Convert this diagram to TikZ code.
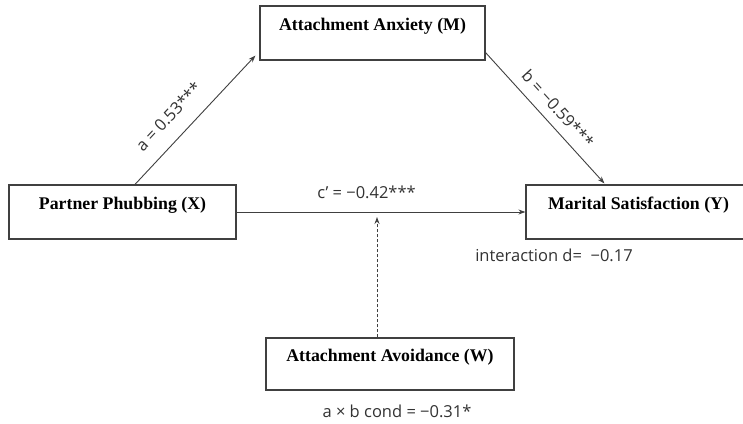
\documentclass[tikz,border=0pt]{standalone}
\usepackage{fontspec}
\setmainfont{Liberation Serif}
\newfontfamily\coeffont{Open Sans}
\usetikzlibrary{arrows.meta, positioning}
\definecolor{linegray}{RGB}{64,64,64}
\definecolor{textgray}{RGB}{51,51,51}
\tikzset{
  varbox/.style={
    rectangle, draw=linegray, line width=1.2pt,
    minimum height=54pt, text height=14pt, text depth=20pt,
    font=\fontsize{17.8}{20}\selectfont\bfseries
  },
  coef/.style={
    font=\coeffont\fontsize{16.5}{19}\selectfont,
    text=textgray, inner sep=2pt
  },
  arrow/.style={draw=linegray, line width=0.9pt, -{Stealth[length=7pt,width=5pt]}},
  modarrow/.style={arrow, dash pattern=on 3pt off 2pt},
}

\begin{document}
\begin{tikzpicture}[x=1pt, y=-1pt]
  \useasboundingbox (0,0) rectangle (743,423);
  \clip (0,0) rectangle (743,423);
  \fill[white] (0,0) rectangle (743,423);

  \node (M) [varbox, minimum width=225pt] at (372.5,33)  {Attachment Anxiety (M)};
  \node (X) [varbox, minimum width=227pt] at (122.5,212) {Partner Phubbing (X)};
  \node (Y) [varbox, minimum width=225pt] at (638.5,212) {Marital Satisfaction (Y)};
  \node (W) [varbox, minimum width=248pt, minimum height=52pt] at (390,364) {Attachment Avoidance (W)};
  \coordinate (wtip) at (377,217);

  \draw [arrow] ([xshift=12.5pt]X.north) -- node[coef, sloped, above=13pt, pos=0.41] {a = 0.53***} ([xshift=-4pt,yshift=5pt]M.south west);
  \draw [arrow] ([yshift=8pt]M.south east) -- node[coef, sloped, above=7pt, pos=0.51] {b = −0.59***} ([xshift=79pt,yshift=1pt]Y.north west);
  \draw [arrow] (X) -- node[coef, above=11pt, pos=0.45] {c’ = −0.42***} (Y);
  \draw [modarrow] ([xshift=-13pt]W.north) -- (wtip);

  \node (dint) [coef] at (554,255) {interaction d=~~−0.17};
  \node (cond) [coef] at (397,411) {a × b cond = −0.31*};
\end{tikzpicture}
\end{document}
